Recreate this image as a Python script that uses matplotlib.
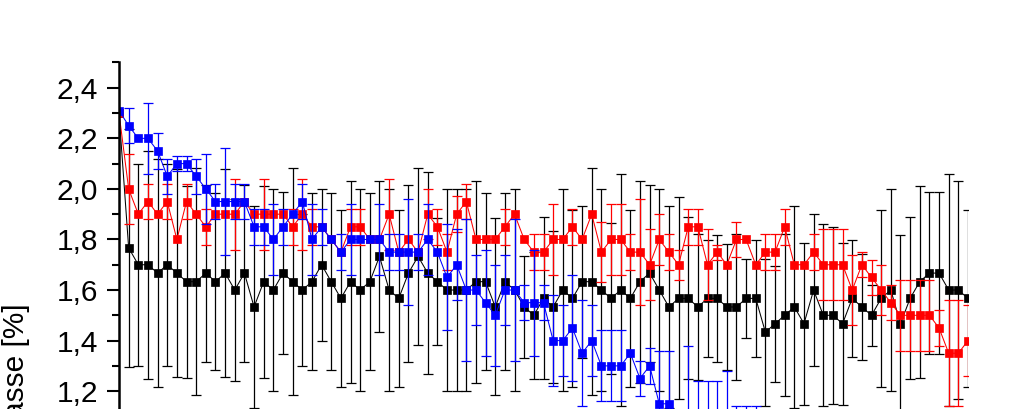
import numpy as np
import matplotlib
matplotlib.use('Agg')
import matplotlib.pyplot as plt
from matplotlib.ticker import MultipleLocator, FuncFormatter

plt.rcParams['font.family'] = ['Liberation Sans', 'DejaVu Sans']

# measurement index (x axis is not shown in the cropped picture)
n_points = 89
x = np.arange(n_points)

black = [2.3, 1.767, 1.7, 1.7, 1.667, 1.7, 1.667, 1.633, 1.633, 1.667,
         1.633, 1.667, 1.6, 1.667, 1.533, 1.633, 1.6, 1.667, 1.633, 1.6,
         1.633, 1.7, 1.633, 1.567, 1.633, 1.6, 1.633, 1.733, 1.6, 1.567,
         1.667, 1.733, 1.667, 1.633, 1.6, 1.6, 1.6, 1.633, 1.633, 1.533,
         1.633, 1.6, 1.533, 1.5, 1.567, 1.533, 1.6, 1.567, 1.633, 1.633,
         1.6, 1.567, 1.6, 1.567, 1.633, 1.667, 1.6, 1.533, 1.567, 1.567,
         1.533, 1.567, 1.567, 1.533, 1.533, 1.567, 1.567, 1.433, 1.467, 1.5,
         1.533, 1.467, 1.6, 1.5, 1.5, 1.467, 1.567, 1.533, 1.5, 1.567,
         1.6, 1.467, 1.567, 1.633, 1.667, 1.667, 1.6, 1.6, 1.567]
black_err = [np.nan, .47, .4, .45, .45, .4, .41, .38, .45, .35,
             .35, .41, .36, .35, .4, .38, .4, .32, .45, .3,
             .35, .3, .35, .35, .4, .4, .35, .3, .4, .35,
             .35, .35, .4, .25, .4, .4, .4, .4, .35, .35,
             .35, .4, .2, .25, .32, .3, .4, .35, .3, .45,
             .4, .3, .46, .35, .4, .35, .4, .4, .4, .32,
             .29, .23, .25, .25, .29, .155, .23, .29, .23, .32,
             .4, .32, .3, .36, .35, .32, .23, .21, .12, .35,
             .4, .35, .32, .38, .32, .32, .46, .43, .35]

red = [2.3, 2.0, 1.9, 1.95, 1.9, 1.95, 1.8, 1.95, 1.9, 1.85,
       1.9, 1.9, 1.9, 1.95, 1.9, 1.9, 1.9, 1.9, 1.85, 1.9,
       1.85, 1.85, 1.8, 1.75, 1.85, 1.85, 1.8, 1.8, 1.9, 1.75,
       1.8, 1.75, 1.9, 1.85, 1.75, 1.9, 1.95, 1.8, 1.8, 1.8,
       1.85, 1.9, 1.8, 1.75, 1.75, 1.8, 1.8, 1.85, 1.8, 1.9,
       1.75, 1.8, 1.8, 1.75, 1.75, 1.7, 1.8, 1.75, 1.7, 1.85,
       1.85, 1.7, 1.75, 1.7, 1.8, 1.8, 1.7, 1.75, 1.75, 1.85,
       1.7, 1.7, 1.75, 1.7, 1.7, 1.7, 1.6, 1.7, 1.65, 1.6,
       1.55, 1.5, 1.5, 1.5, 1.5, 1.45, 1.35, 1.35, 1.4]
red_err = [np.nan, .14, np.nan, .07, np.nan, .07, np.nan, .07, np.nan, .07,
           np.nan, np.nan, .14, np.nan, np.nan, .14, np.nan, np.nan, .07, .14,
           .07, np.nan, np.nan, np.nan, .07, .07, np.nan, np.nan, .14, np.nan,
           np.nan, np.nan, .1, .07, .07, .07, .07, np.nan, np.nan, np.nan,
           .07, np.nan, np.nan, .07, .07, .14, np.nan, .07, np.nan, np.nan,
           .12, .14, .14, .07, .21, .14, .1, .07, .06, .07,
           .07, .14, .03, np.nan, .07, np.nan, np.nan, .07, .07, .07,
           np.nan, np.nan, .07, .14, .14, .14, .14, .05, .07, .1,
           .07, .14, .14, .14, .14, .07, .21, .21, .14]

blue = [2.31, 2.25, 2.2, 2.2, 2.15, 2.05, 2.1, 2.1, 2.05, 2.0,
        1.95, 1.95, 1.95, 1.95, 1.85, 1.85, 1.8, 1.85, 1.9, 1.95,
        1.8, 1.85, 1.8, 1.75, 1.8, 1.8, 1.8, 1.8, 1.75, 1.75,
        1.75, 1.75, 1.8, 1.75, 1.65, 1.7, 1.6, 1.6, 1.55, 1.5,
        1.6, 1.6, 1.55, 1.55, 1.55, 1.4, 1.4, 1.45, 1.35, 1.4,
        1.3, 1.3, 1.3, 1.35, 1.25, 1.3, 1.15, 1.15, 1.1, 1.1,
        1.1, 1.1, 1.1, 1.1, 1.0, 1.0, 1.0]
blue_err = [np.nan, .07, np.nan, .14, .07, .07, .03, .03, .07, .14,
            .07, .21, .07, .07, .07, .07, .14, .07, np.nan, .07,
            .14, .07, np.nan, .07, .14, np.nan, np.nan, .14, .07, .07,
            .21, .07, .14, np.nan, .21, .14, .28, .14, .21, .2,
            .14, .28, .07, .21, .07, .18, .14, .21, .21, .14,
            .14, .14, .14, np.nan, .07, .07, .21, .21, np.nan, .28,
            .14, .14, .14, .18, .14, .14, .14]

fig = plt.figure(figsize=(10.24, 4.09), dpi=100)
# axes run below the lower edge of the picture (the reference is cropped)
ax = fig.add_axes([119 / 1024, -0.0800, (968 - 119) / 1024, 0.9272])

for vals, errs, col in [(black, black_err, 'black'),
                        (red, red_err, '#ff0000'),
                        (blue, blue_err, '#0000ff')]:
    vals = np.array(vals)
    errs = np.array(errs)
    xs = x[:len(vals)]
    m = ~np.isnan(errs)
    ax.errorbar(xs[m], vals[m], yerr=errs[m], fmt='none', ecolor=col,
                elinewidth=0.9, capsize=3.8, capthick=0.9)
    ax.plot(xs, vals, color=col, lw=0.75, marker='s', ms=5.2,
            mfc=col, mec=col, mew=0.5)

ax.set_xlim(0, 88)
ax.set_ylim(1.0, 2.5)

ax.yaxis.set_major_locator(MultipleLocator(0.2))
ax.yaxis.set_minor_locator(MultipleLocator(0.1))
ax.yaxis.set_major_formatter(FuncFormatter(lambda v, p: f"{v:.1f}".replace('.', ',')))
ax.tick_params(axis='y', which='major', direction='out', length=8.5, width=1.5,
               labelsize=21.5, pad=6.5)
ax.tick_params(axis='y', which='minor', direction='out', length=5, width=1.5)
ax.tick_params(axis='x', which='both', bottom=False, labelbottom=False)

for side in ['top', 'right', 'bottom']:
    ax.spines[side].set_visible(False)
ax.spines['left'].set_linewidth(1.8)

fig.text(16.5 / 1024, 1 - 303 / 409, 'Masse [%]', rotation=90,
         ha='center', va='top', fontsize=21.5)

fig.savefig('out.png', dpi=100)
plt.close(fig)
